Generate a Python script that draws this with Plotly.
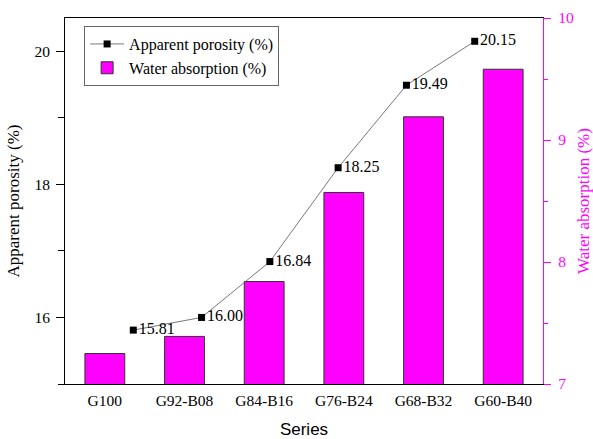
import plotly.graph_objects as go

# Sample series and measured properties
series = ["G100", "G92-B08", "G84-B16", "G76-B24", "G68-B32", "G60-B40"]
apparent_porosity = [15.81, 16.00, 16.84, 18.25, 19.49, 20.15]
water_absorption = [7.25, 7.39, 7.84, 8.57, 9.19, 9.58]

SERIF = "Liberation Serif, Times New Roman, serif"
SANS = "Liberation Sans, Arial, sans-serif"
MAGENTA = "#FF00FF"

fig = go.Figure()

# Water absorption bars on the right-hand axis
fig.add_trace(go.Bar(
    x=series, y=water_absorption,
    name="Water absorption (%)",
    marker=dict(color=MAGENTA, line=dict(color="#333333", width=1)),
    width=0.5,
    xaxis="x", yaxis="y",
))

# Apparent porosity line with value labels on the left-hand axis
fig.add_trace(go.Scatter(
    x=series, y=apparent_porosity,
    name="Apparent porosity (%)",
    mode="lines+markers+text",
    line=dict(color="#555555", width=0.8),
    marker=dict(symbol="square", size=7, color="black"),
    text=[f"{v:.2f}" for v in apparent_porosity],
    textposition="middle right",
    textfont=dict(family=SERIF, size=16, color="black"),
    xaxis="x2", yaxis="y2",
))

fig.update_layout(
    width=593, height=439,
    margin=dict(l=65, r=50, t=18, b=55, autoexpand=False),
    paper_bgcolor="white", plot_bgcolor="white",
    font=dict(family=SERIF, size=15, color="black"),
    showlegend=True,
    legend=dict(
        x=0.04, y=0.978, xanchor="left", yanchor="top",
        bordercolor="#666666", borderwidth=1, bgcolor="white",
        font=dict(family=SERIF, size=16),
        traceorder="reversed",
        tracegroupgap=0, itemwidth=34,
    ),
    xaxis=dict(
        type="category", range=[-0.5, 5.5], automargin=False,
        showline=True, linecolor="black", linewidth=1, mirror=True,
        ticks="", showgrid=False, ticklabelstandoff=2,
        tickfont=dict(family=SERIF, size=15.5),
        title=dict(text="Series", font=dict(family=SANS, size=17), standoff=21),
    ),
    xaxis2=dict(
        type="category", range=[-1, 6], overlaying="x",
        visible=False, showgrid=False,
    ),
    yaxis=dict(
        side="right", range=[7, 10], automargin=False,
        tickvals=[7, 8, 9, 10],
        showline=True, linecolor=MAGENTA, linewidth=1.2,
        ticks="outside", ticklen=7, tickcolor=MAGENTA,
        minor=dict(dtick=0.5, ticks="outside", ticklen=4, tickcolor=MAGENTA),
        tickfont=dict(family=SERIF, size=15.5, color=MAGENTA),
        ticklabelstandoff=4,
        showgrid=False, zeroline=False,
        title=dict(text="Water absorption (%)",
                   font=dict(family=SERIF, size=17, color=MAGENTA), standoff=8),
    ),
    yaxis2=dict(
        side="left", overlaying="y", range=[15, 20.5], automargin=False,
        tickvals=[16, 18, 20],
        showline=True, linecolor="black", linewidth=1,
        ticks="outside", ticklen=8, tickcolor="black",
        minor=dict(tickvals=[15, 17, 19], ticks="outside", ticklen=6, tickcolor="black"),
        tickfont=dict(family=SERIF, size=15.5),
        ticklabelstandoff=3,
        showgrid=False, zeroline=False,
        title=dict(text="Apparent porosity (%)",
                   font=dict(family=SERIF, size=17), standoff=10),
    ),
)

fig.write_html("out.html")
